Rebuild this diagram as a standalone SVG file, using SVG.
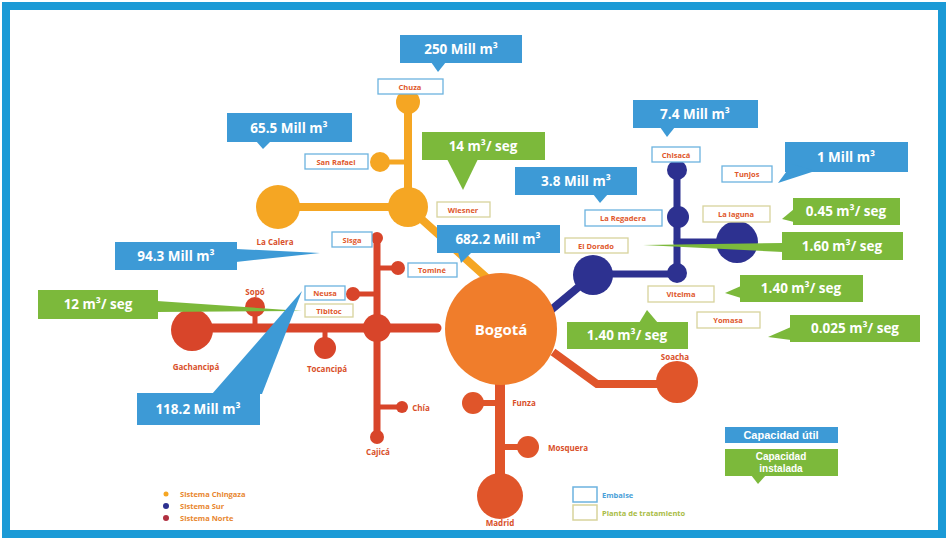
<svg xmlns="http://www.w3.org/2000/svg" width="951" height="540" viewBox="0 0 951 540">
<style>
.bl{fill:#3d9ad6}
.gr{fill:#7cb93b}
.ct{font-family:"Open Sans","Liberation Sans",sans-serif;font-weight:bold;font-size:13.5px;fill:#fff;text-anchor:middle}
.cs{font-family:"Liberation Sans",sans-serif;font-weight:bold;font-size:10px;fill:#fff;text-anchor:middle}
.lb{fill:#fff;stroke:#6cb3df;stroke-width:1.3}
.lp{fill:#fff;stroke:#d8d39c;stroke-width:1.3}
.lt{font-family:"Open Sans","Liberation Sans",sans-serif;font-weight:bold;font-size:7.5px;fill:#e0572b;text-anchor:middle}
.nt{font-family:"Open Sans","Liberation Sans",sans-serif;font-weight:bold;font-size:8px;fill:#d9502a;text-anchor:middle}
.lo{stroke:#f5a623;fill:none;stroke-linecap:round}
.ls{stroke:#2d3190;fill:none;stroke-linecap:round}
.ln{stroke:#d8452a;fill:none;stroke-linecap:round}
.lg{font-family:"Open Sans","Liberation Sans",sans-serif;font-weight:bold;font-size:7.5px}
</style>
<rect x="0" y="0" width="951" height="540" fill="#fff"/>
<rect x="6" y="6" width="936" height="528" fill="#fff" stroke="#1b9ad6" stroke-width="8"/>

<g id="connectors">
<line class="lo" x1="408" y1="102" x2="408" y2="207" stroke-width="8"/>
<line class="lo" x1="278" y1="207" x2="408" y2="207" stroke-width="8"/>
<line class="lo" x1="380" y1="162" x2="408" y2="162" stroke-width="5"/>
<line class="lo" x1="408" y1="207" x2="497" y2="287" stroke-width="8"/>
<line class="ls" x1="677" y1="170" x2="677" y2="273" stroke-width="7"/>
<line class="ls" x1="677" y1="242" x2="737" y2="242" stroke-width="7"/>
<line class="ls" x1="593" y1="274" x2="677" y2="274" stroke-width="7"/>
<line class="ls" x1="593" y1="275" x2="545" y2="315" stroke-width="8"/>
<line class="ln" x1="377" y1="238" x2="377" y2="437" stroke-width="7"/>
<line class="ln" x1="192" y1="328" x2="437" y2="328" stroke-width="9"/>
<line class="ln" x1="377" y1="268" x2="398" y2="268" stroke-width="5"/>
<line class="ln" x1="353" y1="294" x2="377" y2="294" stroke-width="5"/>
<line class="ln" x1="255" y1="307" x2="255" y2="328" stroke-width="5"/>
<line class="ln" x1="325" y1="328" x2="325" y2="348" stroke-width="5"/>
<line class="ln" x1="377" y1="407" x2="402" y2="407" stroke-width="5"/>
<line x1="500" y1="380" x2="500" y2="495" stroke="#e0552a" stroke-width="10"/>
<line x1="473" y1="403" x2="500" y2="403" stroke="#e0552a" stroke-width="6"/>
<line x1="500" y1="447" x2="528" y2="447" stroke="#e0552a" stroke-width="6"/>
<polyline points="553,352 597,384 677,384" stroke="#e0552a" stroke-width="8" fill="none"/>
</g>

<g id="chuza"><circle cx="408" cy="102" r="12" fill="#f5a623"/><rect class="lb" x="378" y="79" width="65" height="15"/><text class="lt" x="410" y="89.5">Chuza</text></g>
<g id="san-rafael"><circle cx="380" cy="162" r="10" fill="#f5a623"/><rect class="lb" x="305" y="154" width="63" height="15"/><text class="lt" x="336" y="164.5">San Rafael</text></g>
<g id="wiesner"><circle cx="408" cy="207" r="20" fill="#f5a623"/><rect class="lp" x="437" y="202" width="53" height="15"/><text class="lt" x="463" y="212.5">Wiesner</text></g>
<g id="la-calera"><circle cx="278" cy="207" r="22" fill="#f5a623"/><text class="nt" x="275" y="245">La Calera</text></g>

<g id="chisaca"><circle cx="677" cy="170" r="10" fill="#2d3190"/><rect class="lb" x="652" y="147" width="48" height="15"/><text class="lt" x="676" y="157.5">Chisacá</text></g>
<g id="tunjos"><rect class="lb" x="722" y="166" width="50" height="16"/><text class="lt" x="747" y="177">Tunjos</text></g>
<g id="la-regadera"><circle cx="678" cy="217" r="11" fill="#2d3190"/><rect class="lb" x="585" y="210" width="77" height="16"/><text class="lt" x="623" y="221">La Regadera</text></g>
<g id="la-laguna"><circle cx="737" cy="242" r="21" fill="#2d3190"/><rect class="lp" x="703" y="206" width="67" height="16"/><text class="lt" x="736" y="217">La laguna</text></g>
<g id="el-dorado"><rect class="lp" x="565" y="238" width="63" height="15"/><text class="lt" x="596" y="248.5">El Dorado</text></g>
<g id="sur-junction"><circle cx="677" cy="273" r="10" fill="#2d3190"/></g>
<g id="sur-main"><circle cx="593" cy="275" r="20" fill="#2d3190"/></g>
<g id="vitelma"><rect class="lp" x="648" y="286" width="66" height="16"/><text class="lt" x="681" y="297">Vitelma</text></g>
<g id="yomasa"><rect class="lp" x="697" y="312" width="63" height="16"/><text class="lt" x="728" y="323">Yomasa</text></g>

<g id="sisga"><circle cx="377" cy="238" r="6" fill="#d8452a"/><rect class="lb" x="332" y="232" width="40" height="15"/><text class="lt" x="352" y="242.5">Sisga</text></g>
<g id="tomine"><circle cx="398" cy="268" r="7" fill="#d8452a"/><rect class="lb" x="408" y="263" width="49" height="14"/><text class="lt" x="432" y="273">Tominé</text></g>
<g id="neusa"><circle cx="353" cy="294" r="7" fill="#d8452a"/><rect class="lb" x="305" y="286" width="40" height="14"/><text class="lt" x="325" y="296">Neusa</text></g>
<g id="tibitoc"><rect class="lp" x="305" y="304" width="48" height="13"/><text class="lt" x="329" y="313.5">Tibitoc</text></g>
<g id="norte-junction"><circle cx="377" cy="328" r="14" fill="#d8452a"/></g>
<g id="gachancipa"><circle cx="192" cy="330" r="21" fill="#d8452a"/><text class="nt" x="196" y="370">Gachancipá</text></g>
<g id="sopo"><circle cx="255" cy="307" r="10" fill="#d8452a"/><text class="nt" x="255" y="295">Sopó</text></g>
<g id="tocancipa"><circle cx="325" cy="348" r="11" fill="#d8452a"/><text class="nt" x="327" y="372">Tocancipá</text></g>
<g id="chia"><circle cx="402" cy="407" r="6" fill="#d8452a"/><text class="nt" x="421" y="411">Chía</text></g>
<g id="cajica"><circle cx="377" cy="437" r="7" fill="#d8452a"/><text class="nt" x="378" y="455">Cajicá</text></g>

<g id="bogota"><circle cx="501" cy="329" r="56" fill="#f07d2b"/><text x="501" y="335" font-family="Open Sans, Liberation Sans, sans-serif" font-weight="bold" font-size="15" fill="#fff" text-anchor="middle">Bogotá</text></g>
<g id="funza"><circle cx="473" cy="403" r="11" fill="#e0552a"/><text class="nt" x="524" y="406">Funza</text></g>
<g id="mosquera"><circle cx="528" cy="447" r="11" fill="#e0552a"/><text class="nt" x="568" y="451">Mosquera</text></g>
<g id="madrid"><circle cx="500" cy="496" r="23" fill="#e0552a"/><text class="nt" x="500" y="526">Madrid</text></g>
<g id="soacha"><circle cx="677" cy="382" r="21" fill="#e0552a"/><text class="nt" x="675" y="360">Soacha</text></g>

<g id="c-250"><rect class="bl" x="400" y="35" width="122" height="28"/><polygon class="bl" points="431,62 446,62 438,72"/><text class="ct" x="461" y="54">250 Mill m³</text></g>
<g id="c-65"><rect class="bl" x="227" y="113" width="125" height="29"/><polygon class="bl" points="256,141 271,141 263,149"/><text class="ct" x="289" y="133">65.5 Mill m³</text></g>
<g id="c-14"><rect class="gr" x="422" y="132" width="123" height="28"/><polygon class="gr" points="447,159 478,159 463,190"/><text class="ct" x="483" y="151">14 m³/ seg</text></g>
<g id="c-682"><rect class="bl" x="437" y="225" width="123" height="28"/><polygon class="bl" points="458,252 472,252 461,263"/><text class="ct" x="498" y="244">682.2 Mill m³</text></g>
<g id="c-74"><rect class="bl" x="633" y="100" width="125" height="28"/><polygon class="bl" points="660,127 675,127 667,137"/><text class="ct" x="695" y="119">7.4 Mill m³</text></g>
<g id="c-1"><rect class="bl" x="785" y="142" width="123" height="30"/><polygon class="bl" points="792,164 815,171 778,183"/><text class="ct" x="846" y="162">1 Mill m³</text></g>
<g id="c-38"><rect class="bl" x="515" y="167" width="122" height="28"/><polygon class="bl" points="593,194 608,194 600,203"/><text class="ct" x="576" y="186">3.8 Mill m³</text></g>
<g id="c-045"><rect class="gr" x="793" y="198" width="107" height="27"/><polygon class="gr" points="794,209 794,222 782,219"/><text class="ct" x="846" y="216">0.45 m³/ seg</text></g>
<g id="c-160"><rect class="gr" x="782" y="232" width="121" height="28"/><polygon class="gr" points="783,243 783,252 643,245"/><text class="ct" x="842" y="251">1.60 m³/ seg</text></g>
<g id="c-140a"><rect class="gr" x="740" y="275" width="123" height="27"/><polygon class="gr" points="741,286 741,298 725,293"/><text class="ct" x="801" y="293">1.40 m³/ seg</text></g>
<g id="c-0025"><rect class="gr" x="790" y="315" width="130" height="27"/><polygon class="gr" points="791,327 791,340 768,337"/><text class="ct" x="855" y="333">0.025 m³/ seg</text></g>
<g id="c-140b"><rect class="gr" x="567" y="322" width="121" height="27"/><polygon class="gr" points="639,323 658,323 647,310"/><text class="ct" x="627" y="340">1.40 m³/ seg</text></g>
<g id="c-943"><rect class="bl" x="115" y="242" width="122" height="28"/><polygon class="bl" points="236,249 236,262 320,253"/><text class="ct" x="176" y="261">94.3 Mill m³</text></g>
<g id="c-12"><rect class="gr" x="38" y="290" width="120" height="29"/><polygon class="gr" points="157,301 157,312 302,311"/><text class="ct" x="98" y="309">12 m³/ seg</text></g>
<g id="c-1182"><rect class="bl" x="137" y="393" width="123" height="32"/><polygon class="bl" points="212,394 262,394 302,291"/><text class="ct" x="198" y="414">118.2 Mill m³</text></g>

<g id="legend-capacidad">
<rect class="bl" x="725" y="427" width="113" height="16"/><text class="cs" x="781" y="439" style="font-size:11px">Capacidad útil</text>
<rect class="gr" x="725" y="449" width="113" height="27"/><polygon class="gr" points="751,475 766,475 758,484"/>
<text class="cs" x="781" y="460">Capacidad</text><text class="cs" x="781" y="472">instalada</text>
</g>
<g id="legend-tipo">
<rect x="573" y="487" width="24" height="15" fill="#fff" stroke="#6cb3df" stroke-width="1.5"/>
<text class="lg" x="602" y="498" fill="#4aa0d8">Embalse</text>
<rect x="573" y="505" width="24" height="15" fill="#fff" stroke="#d8d39c" stroke-width="1.5"/>
<text class="lg" x="602" y="516" fill="#a9bc45">Planta de tratamiento</text>
</g>
<g id="legend-sistemas">
<circle cx="166" cy="494" r="2.5" fill="#f5a623"/><text class="lg" x="180" y="497" fill="#e8862e">Sistema Chingaza</text>
<circle cx="166" cy="506" r="3" fill="#2d3190"/><text class="lg" x="180" y="509" fill="#e8862e">Sistema Sur</text>
<circle cx="166" cy="518" r="3" fill="#b03040"/><text class="lg" x="180" y="521" fill="#e8862e">Sistema Norte</text>
</g>
</svg>
